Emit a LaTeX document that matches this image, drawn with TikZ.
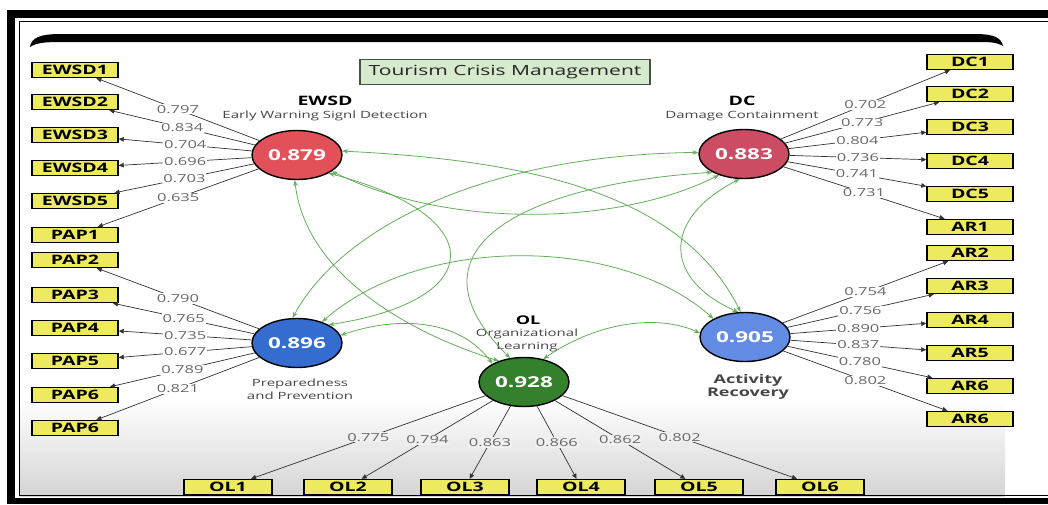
\documentclass[tikz,border=0pt]{standalone}
\usepackage{fontspec}
\setmainfont[FakeStretch=1.5]{Open Sans}
\usetikzlibrary{arrows.meta,shapes.geometric}

\definecolor{boxyellow}{RGB}{238,234,96}
\definecolor{ewsdred}{RGB}{226,80,90}
\definecolor{dcred}{RGB}{204,76,100}
\definecolor{papblue}{RGB}{52,108,208}
\definecolor{arblue}{RGB}{98,140,228}
\definecolor{olgreen}{RGB}{52,128,44}
\definecolor{corrgreen}{RGB}{100,175,90}
\definecolor{titlefill}{RGB}{214,234,206}
\definecolor{titleedge}{RGB}{70,82,70}
\definecolor{labelgray}{RGB}{105,105,105}
\definecolor{linegray}{RGB}{50,50,50}
\definecolor{subgray}{RGB}{70,70,70}
\definecolor{floorgray}{RGB}{212,212,212}
\definecolor{floorlight}{RGB}{240,240,240}

\tikzset{
  indbox/.style={draw=black, line width=1.4pt, fill=boxyellow, minimum width=86pt,
    minimum height=15pt, inner sep=0pt, font=\fontsize{13}{13}\selectfont\bfseries},
  construct/.style={ellipse, draw=black, line width=1.4pt, minimum width=90pt,
    minimum height=49pt, inner sep=0pt, text=white, font=\fontsize{15}{15}\selectfont\bfseries},
  loadline/.style={draw=linegray, line width=0.7pt, -{Triangle[length=5pt,width=4.5pt]}},
  lval/.style={fill=white, inner sep=1pt, text=labelgray, font=\fontsize{11}{11}\selectfont},
  lvalfloor/.style={lval, fill=floorlight},
  corrline/.style={draw=corrgreen, line width=0.8pt,
    {Stealth[length=6pt,width=4.5pt]}-{Stealth[length=6pt,width=4.5pt]}},
  cname/.style={inner sep=0pt, text=black, align=center, font=\fontsize{13}{14}\selectfont\bfseries},
  csub/.style={inner sep=0pt, text=subgray, align=center, font=\fontsize{10}{13}\selectfont},
  titlebox/.style={draw=titleedge, line width=1.3pt, fill=titlefill, minimum width=290pt,
    minimum height=25pt, inner sep=0pt, text=black!85, font=\fontsize{14}{14}\selectfont}
}

\begin{document}
\begin{tikzpicture}[x=1pt,y=-1pt]
\useasboundingbox (0,0) rectangle (1048,504);
\fill[white] (0,0) rectangle (1048,504);

% floor shading of the panel
\shade[top color=white, bottom color=floorgray] (19,400) rectangle (1005,496);

% frame
\fill[black] (7,10) rectangle (1048,18);
\fill[black] (7,10) rectangle (15,504);
\fill[black] (7,498) rectangle (1048,504);
\draw[line width=1pt] (1048,21) -- (19,21) -- (19,495) -- (1048,495);

% panel top edge
\fill[black] (30,47) .. controls (31,38) and (40,34) .. (60,34) -- (975,34)
  .. controls (995,34) and (1001,38) .. (1003,46)
  .. controls (996,42) and (990,42) .. (975,42) -- (60,42)
  .. controls (44,42) and (36,43) .. (30,47) -- cycle;

% title
\node[titlebox] (title) at (505,72) {Tourism Crisis Management};

% constructs
\node[construct, fill=ewsdred] (ewsd) at (297,155) {0.879};
\node[construct, fill=dcred]   (dc)   at (744,154) {0.883};
\node[construct, fill=papblue] (pap)  at (297,343) {0.896};
\node[construct, fill=arblue]  (ar)   at (745,337) {0.905};
\node[construct, fill=olgreen] (ol)   at (524,382) {0.928};

% construct captions
\node[cname] (ewsdname) at (325,101) {EWSD};
\node[csub]  (ewsdsub)  at (325,116) {Early Warning Signl Detection};
\node[cname] (dcname)   at (742,101) {DC};
\node[csub]  (dcsub)    at (742,116) {Damage Containment};
\node[csub]  (papsub)   at (300,389) {Preparedness\\and Prevention};
\node[cname, text=subgray, font=\fontsize{12}{13}\selectfont\bfseries] (arname) at (748,387) {Activity\\Recovery};
\node[cname, font=\fontsize{12}{13}\selectfont\bfseries] (olname) at (528,320) {OL};
\node[csub]  (olsub)    at (527,340) {Organizational\\Learning};

% indicators, left column
\foreach \n/\t/\y in {ewsd1/EWSD1/70, ewsd2/EWSD2/102, ewsd3/EWSD3/135, ewsd4/EWSD4/168,
    ewsd5/EWSD5/201, pap1/PAP1/235, pap2/PAP2/260, pap3/PAP3/295, pap4/PAP4/328,
    pap5/PAP5/361, pap6/PAP6/395, pap7/PAP6/428}
  \node[indbox] (\n) at (75,\y) {\t};

% indicators, right column
\foreach \n/\t/\y in {dc1/DC1/62, dc2/DC2/94, dc3/DC3/127, dc4/DC4/161, dc5/DC5/194,
    ar1/AR1/227, ar2/AR2/253, ar3/AR3/286, ar4/AR4/320, ar5/AR5/353, ar6/AR6/386, ar7/AR6/419}
  \node[indbox] (\n) at (970,\y) {\t};

% indicators, bottom row
\foreach \n/\t/\x in {ol1/OL1/228, ol2/OL2/348, ol3/OL3/465, ol4/OL4/581, ol5/OL5/699, ol6/OL6/820}
  \node[indbox, minimum width=88pt] (\n) at (\x,487) {\t};

% outer loadings
\foreach \b/\v in {ewsd1/0.797, ewsd2/0.834, ewsd3/0.704, ewsd4/0.696, ewsd5/0.703, pap1/0.635}
  \draw[loadline] (ewsd) -- node[lval] (v-\b) {\v} (\b);
\foreach \b/\v in {pap2/0.790, pap3/0.765, pap4/0.735, pap5/0.677, pap6/0.789, pap7/0.821}
  \draw[loadline] (pap) -- node[lval] (v-\b) {\v} (\b);
\foreach \b/\v in {dc1/0.702, dc2/0.773, dc3/0.804, dc4/0.736, dc5/0.741, ar1/0.731}
  \draw[loadline] (dc) -- node[lval] (v-\b) {\v} (\b);
\foreach \b/\v in {ar2/0.754, ar3/0.756, ar4/0.890, ar5/0.837, ar6/0.780, ar7/0.802}
  \draw[loadline] (ar) -- node[lval] (v-\b) {\v} (\b);
\foreach \b/\v in {ol1/0.775, ol2/0.794, ol3/0.863, ol4/0.866, ol5/0.862, ol6/0.802}
  \draw[loadline] (ol) -- node[lvalfloor] (v-\b) {\v} (\b);

% correlations between constructs
\draw[corrline] (ewsd.-25) .. controls (450,230) and (620,225) .. (dc.-140);
\draw[corrline] (ewsd.-30) .. controls (490,215) and (490,300) .. (pap.30);
\draw[corrline] (ewsd.-95) .. controls (305,270) and (400,330) .. (ol.140);
\draw[corrline] (ewsd.5) .. controls (520,160) and (680,190) .. (ar.100);
\draw[corrline] (dc.178) .. controls (480,155) and (340,230) .. (pap.100);
\draw[corrline] (dc.-150) .. controls (520,185) and (400,250) .. (ol.120);
\draw[corrline] (dc.-100) .. controls (660,220) and (665,280) .. (ar.105);
\draw[corrline] (pap.40) .. controls (420,235) and (620,235) .. (ar.150);
\draw[corrline] (pap.10) .. controls (400,315) and (460,320) .. (ol.150);
\draw[corrline] (ol.50) .. controls (600,320) and (660,315) .. (ar.175);
\end{tikzpicture}
\end{document}
